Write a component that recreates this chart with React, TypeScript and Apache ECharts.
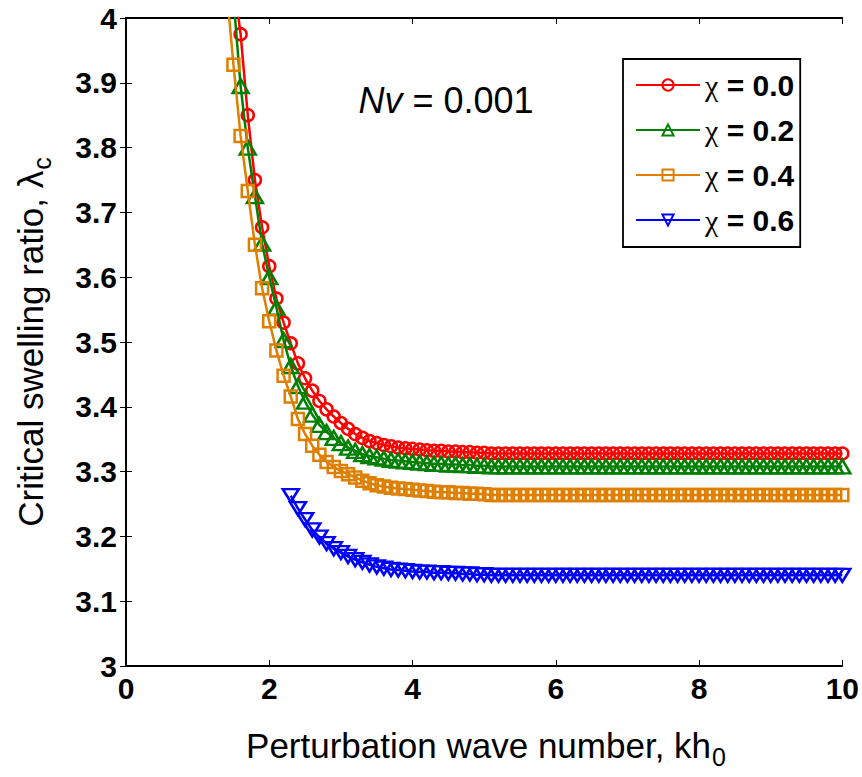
import React, { useEffect, useRef } from "react";
import * as echarts from "echarts";

// x grid: perturbation wave number kh0 (1.4 .. 10.0, step 0.1)
const kh: number[] = Array.from({ length: 87 }, (_, i) => Number((1.4 + i * 0.1).toFixed(1)));

// critical swelling ratio readings, first 37 values cover kh = 1.4 .. 5.0, the rest 5.1 .. 10.0
const chi00: (number | null)[] = [
  null, 4.06, 3.975, 3.85, 3.75, 3.677, 3.617, 3.567, 3.53, 3.498,
  3.467, 3.444, 3.425, 3.409, 3.396, 3.385, 3.375, 3.366, 3.358, 3.352,
  3.347, 3.344, 3.341, 3.339, 3.337, 3.336, 3.335, 3.334, 3.333, 3.332,
  3.332, 3.331, 3.331, 3.33, 3.33, 3.329, 3.329,
  3.328, 3.328, 3.328, 3.328, 3.328, 3.328, 3.328, 3.328, 3.328, 3.328,
  3.328, 3.328, 3.328, 3.328, 3.328, 3.328, 3.328, 3.328, 3.328, 3.328,
  3.328, 3.328, 3.328, 3.328, 3.328, 3.328, 3.328, 3.328, 3.328, 3.328,
  3.328, 3.328, 3.328, 3.328, 3.328, 3.328, 3.328, 3.328, 3.328, 3.328,
  3.328, 3.328, 3.328, 3.328, 3.328, 3.328, 3.328, 3.328, 3.328, 3.328,
];
const chi02: (number | null)[] = [
  null, 4.03, 3.895, 3.8, 3.725, 3.652, 3.6, 3.553, 3.503, 3.463,
  3.432, 3.408, 3.388, 3.372, 3.361, 3.352, 3.344, 3.337, 3.332, 3.327,
  3.324, 3.322, 3.32, 3.318, 3.317, 3.316, 3.315, 3.314, 3.313, 3.312,
  3.312, 3.311, 3.311, 3.31, 3.31, 3.309, 3.309,
  3.308, 3.308, 3.308, 3.308, 3.308, 3.308, 3.308, 3.308, 3.308, 3.308,
  3.308, 3.308, 3.308, 3.308, 3.308, 3.308, 3.308, 3.308, 3.308, 3.308,
  3.308, 3.308, 3.308, 3.308, 3.308, 3.308, 3.308, 3.308, 3.308, 3.308,
  3.308, 3.308, 3.308, 3.308, 3.308, 3.308, 3.308, 3.308, 3.308, 3.308,
  3.308, 3.308, 3.308, 3.308, 3.308, 3.308, 3.308, 3.308, 3.308, 3.308,
];
const chi04: (number | null)[] = [
  4.05, 3.928, 3.818, 3.733, 3.65, 3.583, 3.532, 3.487, 3.448, 3.416,
  3.381, 3.358, 3.34, 3.326, 3.315, 3.307, 3.301, 3.296, 3.291, 3.286,
  3.282, 3.279, 3.277, 3.275, 3.274, 3.273, 3.272, 3.271, 3.27, 3.269,
  3.268, 3.268, 3.267, 3.267, 3.266, 3.266, 3.265,
  3.264, 3.264, 3.264, 3.264, 3.264, 3.264, 3.264, 3.264, 3.264, 3.264,
  3.264, 3.264, 3.264, 3.264, 3.264, 3.264, 3.264, 3.264, 3.264, 3.264,
  3.264, 3.264, 3.264, 3.264, 3.264, 3.264, 3.264, 3.264, 3.264, 3.264,
  3.264, 3.264, 3.264, 3.264, 3.264, 3.264, 3.264, 3.264, 3.264, 3.264,
  3.264, 3.264, 3.264, 3.264, 3.264, 3.264, 3.264, 3.264, 3.264, 3.264,
];
const chi06: (number | null)[] = [
  null, null, null, null, null, null, null, null, null, 3.263,
  3.243, 3.226, 3.21, 3.199, 3.189, 3.181, 3.175, 3.169, 3.164, 3.16,
  3.156, 3.153, 3.151, 3.149, 3.148, 3.147, 3.146, 3.145, 3.145, 3.144,
  3.144, 3.143, 3.143, 3.142, 3.142, 3.141, 3.141,
  3.14, 3.14, 3.14, 3.14, 3.14, 3.14, 3.14, 3.14, 3.14, 3.14,
  3.14, 3.14, 3.14, 3.14, 3.14, 3.14, 3.14, 3.14, 3.14, 3.14,
  3.14, 3.14, 3.14, 3.14, 3.14, 3.14, 3.14, 3.14, 3.14, 3.14,
  3.14, 3.14, 3.14, 3.14, 3.14, 3.14, 3.14, 3.14, 3.14, 3.14,
  3.14, 3.14, 3.14, 3.14, 3.14, 3.14, 3.14, 3.14, 3.14, 3.14,
];

const chiLabels = ["0.0", "0.2", "0.4", "0.6"];
const colors = ["#ff0000", "#008000", "#de7f00", "#0000ff"];
const xTicks = [0, 2, 4, 6, 8, 10];

const FONT = "'Liberation Sans', Arial, Helvetica, sans-serif";

function pairs(ys: (number | null)[]) {
  const out: number[][] = [];
  ys.forEach((y, i) => {
    if (y !== null && i < kh.length) out.push([kh[i], y]);
  });
  return out;
}

export default function App() {
  const ref = useRef<HTMLDivElement>(null);
  useEffect(() => {
    if (!ref.current) return;
    const chart = echarts.init(ref.current, null, { renderer: "svg" });
    const seriesData = [chi00, chi02, chi04, chi06];
    const symbols = ["circle", "triangle", "rect", "triangle"];
    const sizes: any[] = [12, [16, 14], 12, [16, 13]];
    const rotates = [0, 0, 0, 180];

    const axisLine = { show: true, lineStyle: { color: "#000", width: 1.8 } };
    const tick = { show: true, inside: true, length: 6, lineStyle: { color: "#000", width: 1 } };
    const label = {
      color: "#000",
      fontFamily: FONT,
      fontWeight: "bold",
      fontSize: 30,
    };

    chart.setOption({
      animation: false,
      backgroundColor: "#fff",
      grid: { left: 126, right: 16, top: 18, bottom: 111, containLabel: false },
      xAxis: [
        {
          type: "value",
          min: 0,
          max: 10,
          interval: 2,
          position: "bottom",
          axisLine,
          axisTick: tick,
          splitLine: { show: false },
          axisLabel: { ...label, margin: 7, formatter: (v: number) => (xTicks.includes(v) ? String(v) : "") },
        },
        {
          type: "value",
          min: 0,
          max: 10,
          interval: 2,
          position: "top",
          axisLine,
          axisTick: tick,
          splitLine: { show: false },
          axisLabel: { show: false },
        },
      ],
      yAxis: [
        {
          type: "value",
          min: 3,
          max: 4,
          interval: 0.1,
          position: "left",
          axisLine,
          axisTick: tick,
          splitLine: { show: false },
          axisLabel: { ...label, margin: 9, formatter: (v: number) => String(Number(v.toFixed(1))) },
        },
        {
          type: "value",
          min: 3,
          max: 4,
          interval: 0.1,
          position: "right",
          axisLine,
          axisTick: tick,
          splitLine: { show: false },
          axisLabel: { show: false },
        },
      ],
      legend: {
        orient: "vertical",
        left: 623,
        top: 59,
        itemWidth: 64,
        itemHeight: 14,
        itemGap: 15,
        padding: [11, 6, 12, 12],
        borderColor: "#000",
        borderWidth: 1.8,
        backgroundColor: "#fff",
        selectedMode: false,
        data: chiLabels,
        formatter: (n: string) => `{g|χ}{b| = ${n}}`,
        textStyle: {
          color: "#000",
          rich: {
            g: { fontFamily: "'Liberation Serif', 'DejaVu Serif', serif", fontSize: 30, lineHeight: 30, color: "#000" },
            b: { fontFamily: FONT, fontWeight: "bold", fontSize: 30, lineHeight: 30, color: "#000" },
          },
        },
      },
      series: seriesData.map((d, i) => ({
        name: chiLabels[i],
        type: "line",
        xAxisIndex: 0,
        yAxisIndex: 0,
        data: pairs(d),
        clip: true,
        symbol: symbols[i],
        symbolSize: sizes[i],
        symbolRotate: rotates[i],
        showAllSymbol: true,
        lineStyle: { color: colors[i], width: 2.5 },
        itemStyle: { color: "rgba(255,255,255,0)", borderColor: colors[i], borderWidth: 2.5 },
        emphasis: { disabled: true },
        z: 2 + i,
      })),
      graphic: [
        {
          type: "text",
          x: 446,
          y: 100,
          style: {
            text: "{i|Nv}{r| = 0.001}",
            align: "center",
            verticalAlign: "middle",
            rich: {
              i: { fontFamily: FONT, fontStyle: "italic", fontSize: 36, fill: "#000" },
              r: { fontFamily: FONT, fontSize: 36, fill: "#000" },
            },
          },
        },
        {
          type: "text",
          x: 486,
          y: 745,
          style: {
            text: "{m|Perturbation wave number, kh}{s|0}",
            align: "center",
            verticalAlign: "middle",
            rich: {
              m: { fontFamily: FONT, fontSize: 35, fill: "#000" },
              s: { fontFamily: FONT, fontSize: 25, padding: [24, 0, 0, 1], fill: "#000" },
            },
          },
        },
        {
          type: "text",
          x: 30,
          y: 342,
          rotation: Math.PI / 2,
          style: {
            text: "{m|Critical swelling ratio, λ}{s|c}",
            align: "center",
            verticalAlign: "middle",
            rich: {
              m: { fontFamily: FONT, fontSize: 35, fill: "#000" },
              s: { fontFamily: FONT, fontSize: 25, padding: [24, 0, 0, 1], fill: "#000" },
            },
          },
        },
      ],
    });
    return () => chart.dispose();
  }, []);
  return (
    <div
      ref={ref}
      style={{ position: "absolute", left: 0, top: 0, width: 862, height: 777 }}
    />
  );
}
